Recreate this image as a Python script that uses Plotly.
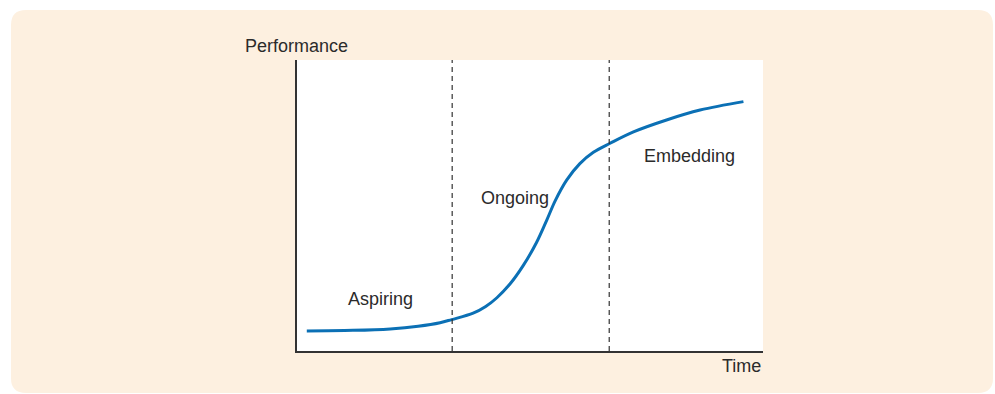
import plotly.graph_objects as go

# curve (time 0-100, performance 0-100)
time = [2.1, 12.0, 20.0, 26.0, 30.7, 33.2, 37.8, 40.5, 42.9, 45.7, 48.6, 51.4, 53.6, 55.4,
        57.9, 60.7, 63.6, 67.2, 72.2, 79.3, 86.5, 95.8]
perf = [6.9, 7.1, 7.6, 8.5, 9.7, 10.8, 13.0, 15.3, 18.3, 23.0, 29.5, 37.3, 45.0, 51.6,
        58.8, 64.4, 68.3, 71.4, 75.3, 79.4, 82.8, 85.7]

stage_bounds = [33.3, 67.0]
stage_names = ["Aspiring", "Ongoing", "Embedding"]
stage_x = [18.0, 46.8, 84.3]
stage_y = [17.9, 52.6, 67.0]

W, H = 995, 394
L, R, T, B = 297, 232, 60, 43
pw, ph = W - L - R, H - T - B

def px(x):
    return (x - L) / pw

def py(y):
    return (H - B - y) / ph

# rounded panel in paper coords
x0, x1, y0, y1 = px(11), px(993), py(393), py(10)
rx, ry = 15 / pw, 15 / ph
panel = (f"M{x0+rx},{y1} L{x1-rx},{y1} Q{x1},{y1} {x1},{y1-ry} "
         f"L{x1},{y0+ry} Q{x1},{y0} {x1-rx},{y0} L{x0+rx},{y0} "
         f"Q{x0},{y0} {x0},{y0+ry} L{x0},{y1-ry} Q{x0},{y1} {x0+rx},{y1} Z")

fig = go.Figure()
fig.add_trace(go.Scatter(x=time, y=perf, mode="lines",
                         line=dict(color="#0b70b5", width=3, shape="spline", smoothing=1.0),
                         hoverinfo="skip"))

shapes = [
    dict(type="path", path=panel, xref="paper", yref="paper",
         fillcolor="#fdf0e0", line=dict(width=0), layer="below"),
    dict(type="rect", x0=0, x1=1, y0=0, y1=1, xref="paper", yref="paper",
         fillcolor="white", line=dict(width=0), layer="below"),
]
for b in stage_bounds:
    shapes.append(dict(type="line", x0=b, x1=b, y0=0, y1=100, xref="x", yref="y",
                       line=dict(color="#333333", width=1.2, dash="5px,4px")))

annos = []
for name, x, y in zip(stage_names, stage_x, stage_y):
    annos.append(dict(x=x, y=y, text=name, showarrow=False, xref="x", yref="y",
                      font=dict(size=18, color="#2b2b2b")))
annos.append(dict(x=px(243), y=py(46), text="Performance", showarrow=False,
                  xref="paper", yref="paper", xanchor="left", yanchor="middle",
                  font=dict(size=18, color="#2b2b2b")))
annos.append(dict(x=px(763), y=py(366), text="Time", showarrow=False,
                  xref="paper", yref="paper", xanchor="right", yanchor="middle",
                  font=dict(size=18, color="#2b2b2b")))

fig.update_layout(
    width=W, height=H,
    margin=dict(l=L, r=R, t=T, b=B),
    paper_bgcolor="white", plot_bgcolor="white",
    font=dict(family="Liberation Sans, Arial, sans-serif"),
    showlegend=False,
    shapes=shapes, annotations=annos,
    xaxis=dict(range=[0, 100], showgrid=False, zeroline=False, showticklabels=False,
               ticks="", showline=True, linecolor="#333333", linewidth=1.5, fixedrange=True),
    yaxis=dict(range=[0, 100], showgrid=False, zeroline=False, showticklabels=False,
               ticks="", showline=True, linecolor="#333333", linewidth=1.5, fixedrange=True),
)

fig.write_html("out.html", config={"displayModeBar": False},
               post_script="document.body.style.margin='0px';")
